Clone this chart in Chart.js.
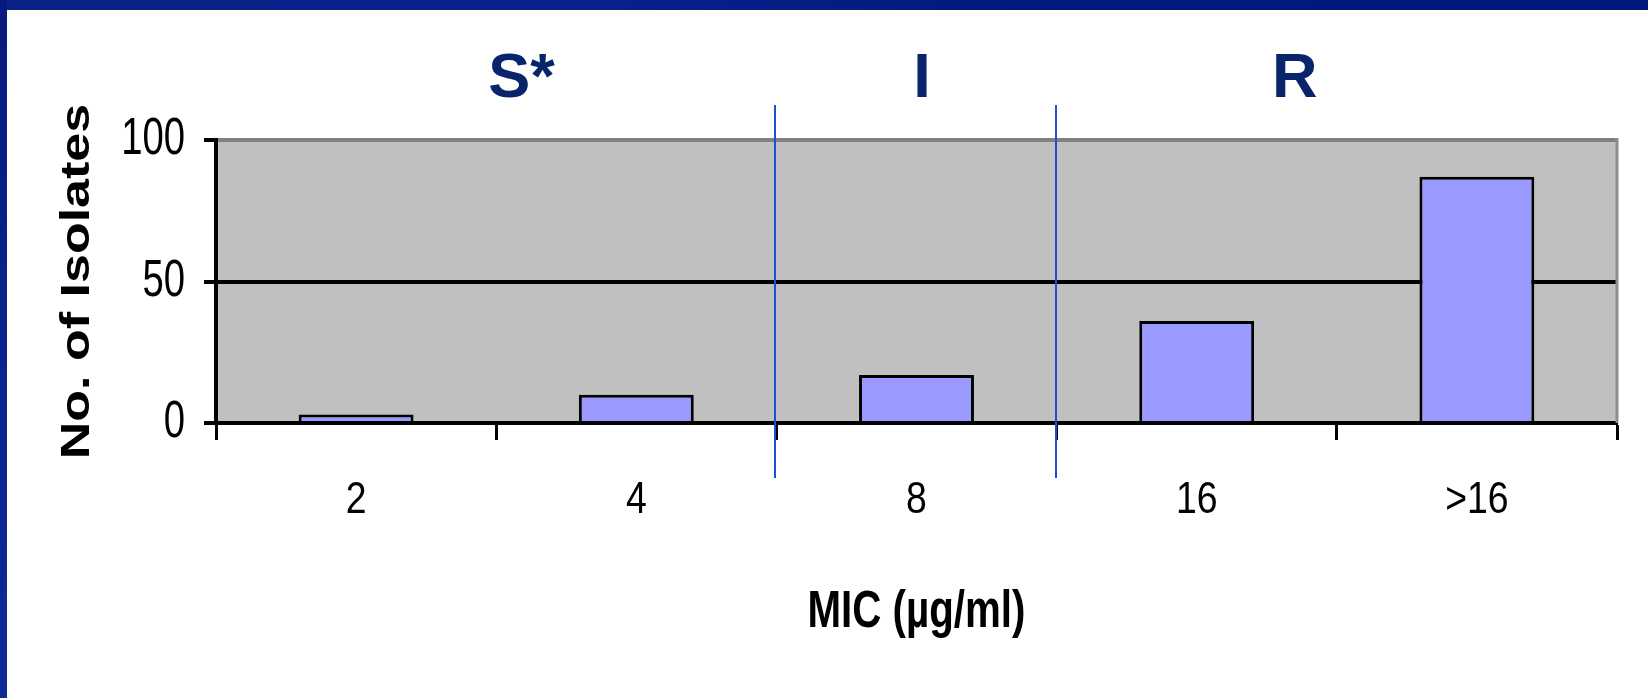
<!DOCTYPE html>
<html>
<head>
<meta charset="utf-8">
<title>MIC distribution</title>
<script src="https://cdn.jsdelivr.net/npm/chart.js@4/dist/chart.umd.min.js"></script>
<style>
  html, body { margin: 0; padding: 0; background: #ffffff; overflow: hidden; }
  #wrap { position: relative; width: 1648px; height: 698px; }
  canvas { display: block; }
</style>
</head>
<body>
<div id="wrap"><canvas id="chart" width="1648" height="698"></canvas></div>
<script>
// MIC categories and number of isolates in each
const micLabels = ['2', '4', '8', '16', '>16'];
const isolateCounts = [3, 10, 17, 36, 87];
const yTickValues = [0, 50, 100];
const xTitle = 'MIC (µg/ml)';
const yTitle = 'No. of Isolates';

// Susceptibility bands shown above the plot
const bandNames = ['S*', 'I', 'R'];
const bandCentres = [0.59, 2.02, 3.35];   // in category-index units
const bandBreaks = [1.5, 2.5];            // boundaries between the bands

const SANS = '"Liberation Sans", Arial, Helvetica, sans-serif';

// Slide frame, grey plot area and its right edge
const framePlugin = {
  id: 'frame',
  beforeDraw(chart) {
    const { ctx, chartArea: a, width, height } = chart;
    ctx.save();
    ctx.fillStyle = '#ffffff';
    ctx.fillRect(0, 0, width, height);
    ctx.fillStyle = '#c0c0c0';
    ctx.fillRect(a.left, a.top, a.right - a.left, a.bottom - a.top);
    ctx.restore();
  },
  beforeDatasetsDraw(chart) {
    const { ctx, chartArea: a } = chart;
    ctx.save();
    ctx.strokeStyle = '#8c8c8c';
    ctx.lineWidth = 3;
    ctx.beginPath();
    ctx.moveTo(a.right, a.top - 2);
    ctx.lineTo(a.right, a.bottom);
    ctx.stroke();
    ctx.restore();
  },
  afterDraw(chart) {
    const { ctx, width, height } = chart;
    ctx.save();
    const g = ctx.createLinearGradient(0, 0, width, 0);
    g.addColorStop(0, '#0a2388');
    g.addColorStop(0.35, '#08228e');
    g.addColorStop(0.6, '#001a7e');
    g.addColorStop(1, '#00187a');
    ctx.fillStyle = g;
    ctx.fillRect(0, 0, width, 10);
    const gl = ctx.createLinearGradient(0, 0, 0, height);
    gl.addColorStop(0, '#071a80');
    gl.addColorStop(1, '#0f2c94');
    ctx.fillStyle = gl;
    ctx.fillRect(0, 0, 7, height);
    ctx.restore();
  }
};

// Tick labels and axis titles in a condensed face
const axisTextPlugin = {
  id: 'axisText',
  afterDraw(chart) {
    const { ctx, chartArea: a } = chart;
    const xs = chart.scales.x;
    const ys = chart.scales.y;
    const draw = (text, x, y, o) => {
      ctx.save();
      ctx.translate(x, y);
      if (o.rotate) ctx.rotate(o.rotate);
      ctx.scale(o.sx || 1, o.sy || 1);
      ctx.font = o.font;
      ctx.fillStyle = '#000000';
      ctx.textAlign = o.align || 'center';
      ctx.textBaseline = 'middle';
      ctx.fillText(text, 0, 0);
      ctx.restore();
    };
    ys.ticks.forEach(t => {
      draw(String(t.value), a.left - 31, ys.getPixelForValue(t.value),
        { font: '51px ' + SANS, sx: 0.75, align: 'right' });
    });
    xs.ticks.forEach((t, i) => {
      draw(xs.getLabelForValue(t.value), xs.getPixelForTick(i), a.bottom + 78,
        { font: '44px ' + SANS, sx: 0.85 });
    });
    draw(xTitle, (a.left + a.right) / 2, a.bottom + 190,
      { font: 'bold 51px ' + SANS, sx: 0.79 });
    draw(yTitle, 78, (a.top + a.bottom) / 2,
      { font: 'bold 52px ' + SANS, rotate: -Math.PI / 2, sy: 0.79 });
  }
};

// Band dividers and band headings
const bandPlugin = {
  id: 'bands',
  afterDraw(chart) {
    const { ctx, chartArea: a } = chart;
    const x = chart.scales.x;
    ctx.save();
    ctx.strokeStyle = '#1a4fdc';
    ctx.lineWidth = 2;
    bandBreaks.forEach(b => {
      const px = Math.round(x.getPixelForValue(b)) - 1;
      ctx.beginPath();
      ctx.moveTo(px, a.top - 35);
      ctx.lineTo(px, a.bottom + 55);
      ctx.stroke();
    });
    ctx.fillStyle = '#08246a';
    ctx.font = 'bold 63px ' + SANS;
    ctx.textAlign = 'center';
    ctx.textBaseline = 'alphabetic';
    bandNames.forEach((name, i) => {
      ctx.fillText(name, x.getPixelForValue(bandCentres[i]), a.top - 43);
    });
    ctx.restore();
  }
};

new Chart(document.getElementById('chart'), {
  type: 'bar',
  data: {
    labels: micLabels,
    datasets: [{
      data: isolateCounts,
      backgroundColor: '#9999ff',
      borderColor: '#000000',
      borderWidth: { top: 3, left: 3, right: 3, bottom: 0 },
      borderSkipped: 'bottom',
      barPercentage: 0.41,
      categoryPercentage: 1.0
    }]
  },
  options: {
    responsive: false,
    animation: false,
    devicePixelRatio: 1,
    layout: { padding: { left: 0, top: 140, right: 31, bottom: 0 } },
    plugins: {
      legend: { display: false },
      tooltip: { enabled: false },
      title: { display: false }
    },
    scales: {
      x: {
        type: 'category',
        offset: true,
        afterFit(s) { s.height = 275; },
        grid: {
          offset: true,
          drawOnChartArea: false,
          drawTicks: true,
          tickLength: 17,
          tickColor: '#000000',
          tickWidth: 3
        },
        border: { display: true, color: '#000000', width: 4 },
        ticks: { display: false, autoSkip: false, maxRotation: 0 },
        title: { display: false }
      },
      y: {
        min: 0,
        max: 100,
        afterFit(s) { s.width = 216; },
        afterBuildTicks(s) { s.ticks = yTickValues.map(v => ({ value: v })); },
        grid: {
          color: ctx => (ctx.tick && ctx.tick.value === 100 ? '#808080' : '#000000'),
          lineWidth: 4,
          drawTicks: true,
          tickLength: 12,
          tickColor: '#000000',
          tickWidth: 4
        },
        border: { display: true, color: '#000000', width: 4 },
        ticks: { display: false },
        title: { display: false }
      }
    }
  },
  plugins: [framePlugin, axisTextPlugin, bandPlugin]
});
</script>
</body>
</html>
